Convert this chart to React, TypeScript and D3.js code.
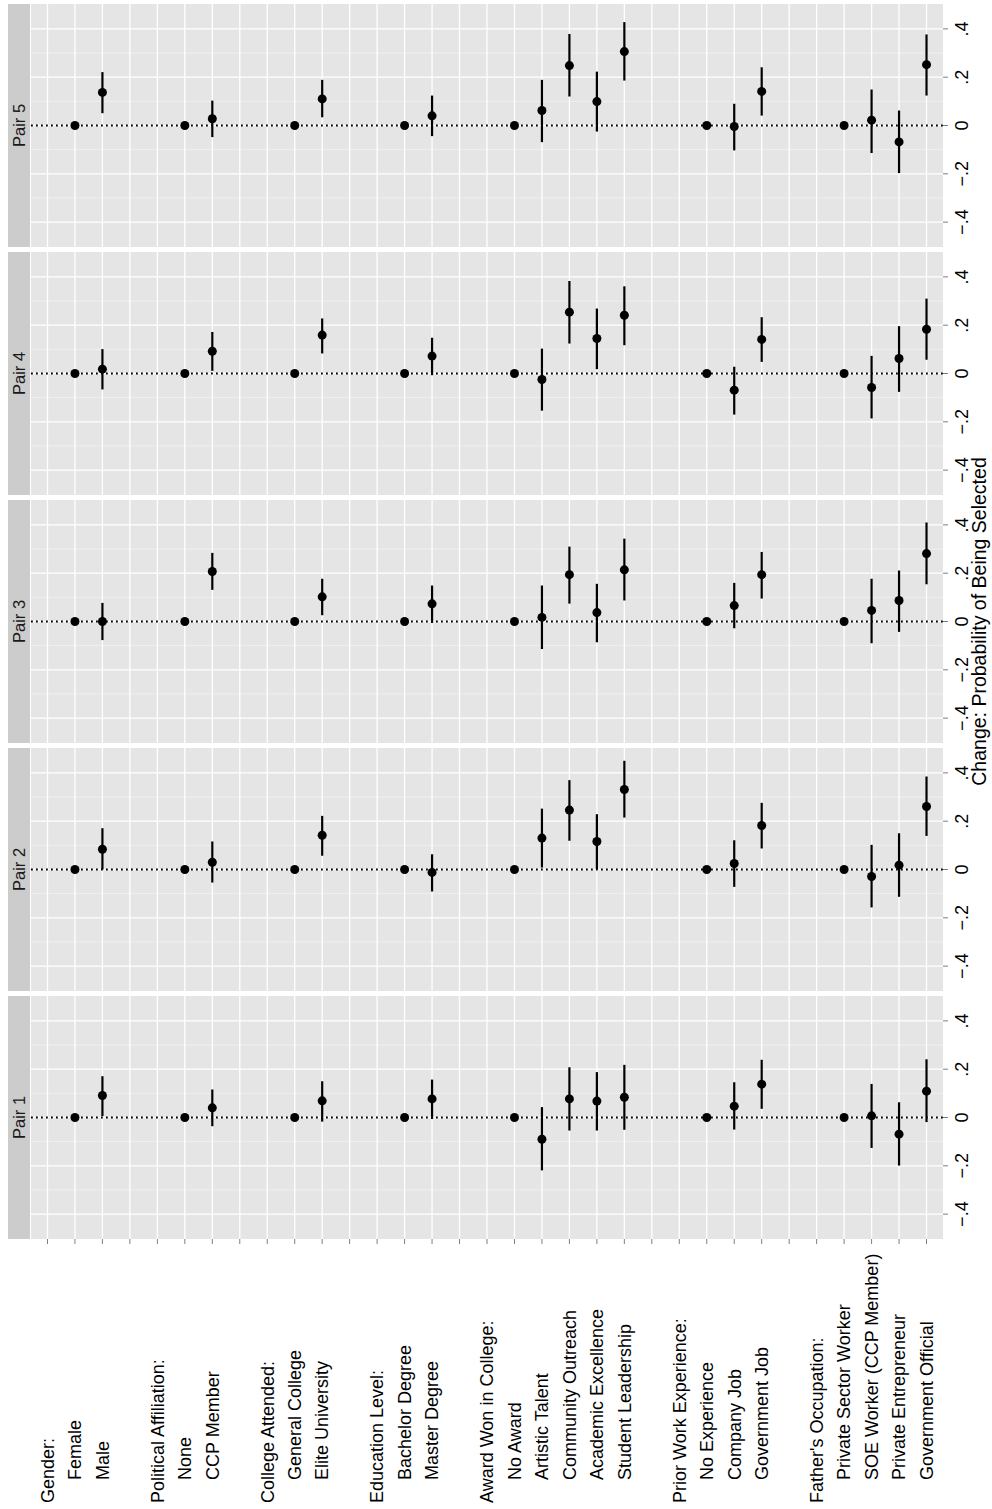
import React from "react";
import * as d3 from "d3";

const labels = [
  "Gender:", "Female", "Male", "_b1",
  "Political Affiliation:", "None", "CCP Member", "_b2",
  "College Attended:", "General College", "Elite University", "_b3",
  "Education Level:", "Bachelor Degree", "Master Degree", "_b4",
  "Award Won in College:", "No Award", "Artistic Talent", "Community Outreach", "Academic Excellence", "Student Leadership", "_b5",
  "Prior Work Experience:", "No Experience", "Company Job", "Government Job", "_b6",
  "Father's Occupation:", "Private Sector Worker", "SOE Worker (CCP Member)", "Private Entrepreneur", "Government Official",
];

const levels = [
  "Female", "Male", "None", "CCP Member", "General College", "Elite University",
  "Bachelor Degree", "Master Degree", "No Award", "Artistic Talent", "Community Outreach",
  "Academic Excellence", "Student Leadership", "No Experience", "Company Job", "Government Job",
  "Private Sector Worker", "SOE Worker (CCP Member)", "Private Entrepreneur", "Government Official",
];

const pairs = ["Pair 5", "Pair 4", "Pair 3", "Pair 2", "Pair 1"];

const est1 = [0, 0.091, 0, 0.040, 0, 0.069, 0, 0.077, 0, -0.090, 0.077, 0.068, 0.084, 0, 0.047, 0.138, 0, 0.007, -0.069, 0.109];
const lo1 = [null, 0.006, null, -0.036, null, -0.017, null, -0.006, null, -0.219, -0.054, -0.054, -0.051, null, -0.050, 0.036, null, -0.126, -0.199, -0.019];
const hi1 = [null, 0.171, null, 0.116, null, 0.150, null, 0.157, null, 0.043, 0.208, 0.188, 0.218, null, 0.146, 0.239, null, 0.139, 0.063, 0.241];

const est2 = [0, 0.084, 0, 0.030, 0, 0.142, 0, -0.012, 0, 0.130, 0.246, 0.116, 0.331, 0, 0.025, 0.182, 0, -0.029, 0.018, 0.261];
const lo2 = [null, 0.0, null, -0.054, null, 0.057, null, -0.091, null, 0.008, 0.119, 0.001, 0.215, null, -0.072, 0.087, null, -0.157, -0.113, 0.139];
const hi2 = [null, 0.171, null, 0.116, null, 0.222, null, 0.063, null, 0.252, 0.370, 0.229, 0.450, null, 0.121, 0.276, null, 0.102, 0.150, 0.385];

const est3 = [0, 0.0, 0, 0.207, 0, 0.102, 0, 0.073, 0, 0.017, 0.194, 0.037, 0.214, 0, 0.066, 0.194, 0, 0.046, 0.087, 0.281];
const lo3 = [null, -0.077, null, 0.131, null, 0.026, null, -0.006, null, -0.114, 0.074, -0.086, 0.087, null, -0.028, 0.095, null, -0.090, -0.043, 0.154];
const hi3 = [null, 0.077, null, 0.284, null, 0.177, null, 0.149, null, 0.149, 0.310, 0.156, 0.343, null, 0.160, 0.288, null, 0.177, 0.211, 0.410];

const est4 = [0, 0.018, 0, 0.092, 0, 0.159, 0, 0.072, 0, -0.025, 0.254, 0.145, 0.241, 0, -0.069, 0.141, 0, -0.058, 0.062, 0.183];
const lo4 = [null, -0.066, null, 0.011, null, 0.083, null, -0.007, null, -0.154, 0.124, 0.018, 0.117, null, -0.170, 0.048, null, -0.186, -0.076, 0.057];
const hi4 = [null, 0.101, null, 0.172, null, 0.228, null, 0.148, null, 0.103, 0.383, 0.269, 0.361, null, 0.028, 0.233, null, 0.073, 0.196, 0.310];

const est5 = [0, 0.137, 0, 0.028, 0, 0.110, 0, 0.040, 0, 0.062, 0.248, 0.099, 0.306, 0, -0.004, 0.141, 0, 0.022, -0.068, 0.252];
const lo5 = [null, 0.051, null, -0.048, null, 0.034, null, -0.044, null, -0.069, 0.120, -0.025, 0.186, null, -0.103, 0.041, null, -0.114, -0.197, 0.124];
const hi5 = [null, 0.221, null, 0.103, null, 0.189, null, 0.124, null, 0.189, 0.379, 0.223, 0.428, null, 0.090, 0.241, null, 0.149, 0.062, 0.377];

const majorTicks = [-0.4, -0.2, 0, 0.2, 0.4];
const tickLabels = ["\u2212.4", "\u2212.2", "0", ".2", ".4"];
const minorTicks = [-0.3, -0.1, 0.1, 0.3];

const seriesByPair: Record<string, { est: number[]; lo: (number | null)[]; hi: (number | null)[] }> = {
  "Pair 1": { est: est1, lo: lo1, hi: hi1 },
  "Pair 2": { est: est2, lo: lo2, hi: hi2 },
  "Pair 3": { est: est3, lo: lo3, hi: hi3 },
  "Pair 4": { est: est4, lo: lo4, hi: hi4 },
  "Pair 5": { est: est5, lo: lo5, hi: hi5 },
};

const FONT = "'Liberation Sans', Arial, Helvetica, sans-serif";

export default function App() {
  const W = 992;
  const H = 1509;
  const panelLeft = 31;
  const panelRight = 943;
  const panelTop0 = 4;
  const panelH = 243;
  const panelGap = 5;

  const x = d3.scalePoint<string>().domain(labels).range([panelLeft, panelRight]).padding(0.6);

  const bottom = panelTop0 + pairs.length * panelH + (pairs.length - 1) * panelGap;

  return (
    <svg width={W} height={H} style={{ position: "absolute", left: 0, top: 0, background: "#fff" }} fontFamily={FONT}>
      {pairs.map((p, pi) => {
        const top = panelTop0 + pi * (panelH + panelGap);
        const y = d3.scaleLinear().domain([-0.503, 0.503]).range([top + panelH, top]);
        const s = seriesByPair[p];
        return (
          <g key={p}>
            <rect x={8} y={top} width={22} height={panelH} fill="#cccccc" />
            <text
              transform={`translate(19,${top + panelH / 2}) rotate(-90)`}
              textAnchor="middle"
              dy="0.35em"
              fontSize={16.5}
              fill="#1a1a1a"
            >
              {p}
            </text>
            <rect x={panelLeft} y={top} width={panelRight - panelLeft} height={panelH} fill="#e5e5e5" />
            {minorTicks.map((t) => (
              <line key={"mi" + t} x1={panelLeft} x2={panelRight} y1={y(t)} y2={y(t)} stroke="#f2f2f2" strokeWidth={0.9} />
            ))}
            {majorTicks.map((t) => (
              <line key={"ma" + t} x1={panelLeft} x2={panelRight} y1={y(t)} y2={y(t)} stroke="#ffffff" strokeWidth={1.3} />
            ))}
            {labels.map((c) => (
              <line key={"v" + c} x1={x(c)} x2={x(c)} y1={top} y2={top + panelH} stroke="#ffffff" strokeWidth={1.3} />
            ))}
            <line
              x1={panelLeft}
              x2={panelRight}
              y1={y(0)}
              y2={y(0)}
              stroke="#000"
              strokeWidth={1.8}
              strokeDasharray="1.8 3.2"
            />
            {levels.map((lv, i) => {
              const lo = s.lo[i];
              const hi = s.hi[i];
              if (lo === null || hi === null) return null;
              return (
                <line key={"e" + lv} x1={x(lv)} x2={x(lv)} y1={y(lo)} y2={y(hi)} stroke="#000" strokeWidth={2.2} />
              );
            })}
            {levels.map((lv, i) => (
              <circle key={"p" + lv} cx={x(lv)} cy={y(s.est[i])} r={4.5} fill="#000" />
            ))}
            {majorTicks.map((t, ti) => (
              <g key={"yt" + t}>
                <line x1={panelRight} x2={panelRight + 5} y1={y(t)} y2={y(t)} stroke="#7f7f7f" strokeWidth={1} />
                <text
                  transform={`translate(962,${y(t)}) rotate(-90)`}
                  textAnchor="middle"
                  dy="0.35em"
                  fontSize={18}
                  fill="#000"
                >
                  {tickLabels[ti]}
                </text>
              </g>
            ))}
          </g>
        );
      })}
      {labels.map((c) => (
        <line key={"bt" + c} x1={x(c)} x2={x(c)} y1={bottom} y2={bottom + 5} stroke="#7f7f7f" strokeWidth={1} />
      ))}
      {labels.map((c) => {
        if (c.startsWith("_b")) return null;
        const isHeading = c.endsWith(":");
        const ys = isHeading ? 1503 : 1480;
        return (
          <text
            key={"lab" + c}
            transform={`translate(${x(c)},${ys}) rotate(-90)`}
            textAnchor="start"
            dy="0.35em"
            fontSize={18}
            fill="#000"
          >
            {c}
          </text>
        );
      })}
      <text
        transform={`translate(979,${(panelTop0 + bottom) / 2}) rotate(-90)`}
        textAnchor="middle"
        dy="0.35em"
        fontSize={19.5}
        fill="#000"
      >
        Change: Probability of Being Selected
      </text>
    </svg>
  );
}
